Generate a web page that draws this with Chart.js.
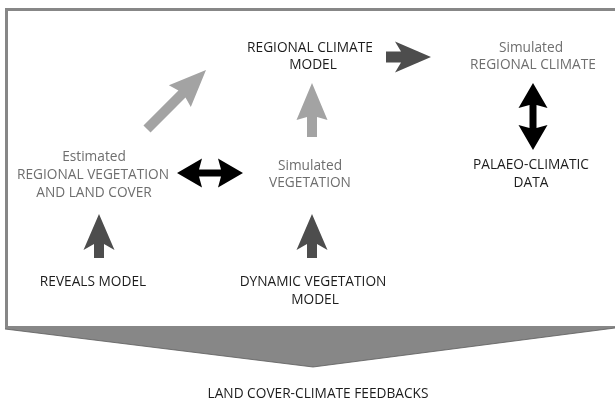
<!DOCTYPE html>
<html>
<head>
<meta charset="utf-8">
<script src="https://cdn.jsdelivr.net/npm/chart.js@4.4.0/dist/chart.umd.min.js"></script>
<style>
  html, body { margin: 0; padding: 0; background: #fff; }
  #diagram { display: block; }
</style>
</head>
<body>
<canvas id="diagram" width="615" height="402"></canvas>
<script>
// Diagram coordinates (x to the right, y downwards), one unit per pixel
const labelText = [
  'REGIONAL CLIMATE', 'MODEL',
  'Simulated', 'REGIONAL CLIMATE',
  'Estimated', 'REGIONAL VEGETATION', 'AND LAND COVER',
  'Simulated', 'VEGETATION',
  'PALAEO-CLIMATIC', 'DATA',
  'REVEALS MODEL',
  'DYNAMIC VEGETATION', 'MODEL',
  'LAND COVER-CLIMATE FEEDBACKS'
];
const labelX = [310, 313, 531, 533, 94, 93, 94, 310, 310, 531, 531, 93, 313, 315, 318];
const labelY = [48, 65, 48, 65, 157, 175, 193, 166, 183, 165, 183, 282, 282, 300, 394];
const labelTone = ['dark', 'dark', 'grey', 'grey', 'grey', 'grey', 'grey', 'grey', 'grey',
  'dark', 'dark', 'dark', 'dark', 'dark', 'dark'];

// Arrows: tail -> tip
const arrowFromX = [147, 312, 386, 177, 533, 99, 312];
const arrowFromY = [129, 137, 57, 173, 83, 258, 258];
const arrowToX = [206, 312, 431, 243, 533, 99, 312];
const arrowToY = [70, 83, 57, 173, 150, 214, 214];
const arrowKind = ['light', 'light', 'darkWide', 'both', 'both', 'dark', 'dark'];

// Frame and the funnel wedge below it
const frameX = [6.5, 620];
const frameY = [9.5, 327];
const wedgeX = [5, 615, 615, 313, 5];
const wedgeY = [326, 326, 328, 367, 329];

const tones = { dark: '#1c1c1c', grey: '#6e6e6e' };
const arrowStyle = {
  light:    { color: '#a3a3a3', shaft: 10, headW: 31, headL: 37, sweep: 3 },
  dark:     { color: '#4d4d4d', shaft: 10, headW: 31, headL: 36, sweep: 6 },
  darkWide: { color: '#4d4d4d', shaft: 11, headW: 31, headL: 36, sweep: 6 },
  both:     { color: '#000000', shaft: 7,  headW: 29, headL: 25, sweep: 3 }
};

function arrowPath(ctx, x1, y1, x2, y2, s, twoHeads) {
  const len = Math.hypot(x2 - x1, y2 - y1);
  ctx.save();
  ctx.translate(x1, y1);
  ctx.rotate(Math.atan2(y2 - y1, x2 - x1));
  const hw = s.headW / 2, sw = s.shaft / 2;
  const back = len - s.headL, join = back + s.sweep;
  ctx.beginPath();
  ctx.moveTo(len, 0);
  ctx.lineTo(back, -hw);
  ctx.lineTo(join, -sw);
  if (twoHeads) {
    ctx.lineTo(s.headL - s.sweep, -sw);
    ctx.lineTo(s.headL, -hw);
    ctx.lineTo(0, 0);
    ctx.lineTo(s.headL, hw);
    ctx.lineTo(s.headL - s.sweep, sw);
  } else {
    ctx.lineTo(0, -sw);
    ctx.lineTo(0, sw);
  }
  ctx.lineTo(join, sw);
  ctx.lineTo(back, hw);
  ctx.closePath();
  ctx.fillStyle = s.color;
  ctx.fill();
  ctx.restore();
}

const diagramPlugin = {
  id: 'diagram',
  afterDatasetsDraw(chart) {
    const ctx = chart.ctx;
    const xs = chart.scales.x, ys = chart.scales.y;
    const px = v => xs.getPixelForValue(v);
    const py = v => ys.getPixelForValue(v);

    // frame
    ctx.save();
    ctx.strokeStyle = '#878787';
    ctx.lineWidth = 3;
    ctx.beginPath();
    ctx.moveTo(px(frameX[0]), py(frameY[1]));
    ctx.lineTo(px(frameX[0]), py(frameY[0]));
    ctx.lineTo(px(frameX[1]), py(frameY[0]));
    ctx.stroke();

    // wedge
    ctx.beginPath();
    wedgeX.forEach((v, i) => {
      if (i === 0) ctx.moveTo(px(v), py(wedgeY[i]));
      else ctx.lineTo(px(v), py(wedgeY[i]));
    });
    ctx.closePath();
    ctx.fillStyle = '#878787';
    ctx.fill();
    ctx.strokeStyle = '#5a5a5a';
    ctx.lineWidth = 0.8;
    ctx.beginPath();
    ctx.moveTo(px(wedgeX[4]), py(wedgeY[4]));
    ctx.lineTo(px(wedgeX[3]), py(wedgeY[3]));
    ctx.lineTo(px(wedgeX[2]), py(wedgeY[2]));
    ctx.stroke();
    ctx.restore();

    // arrows
    arrowKind.forEach((k, i) => {
      arrowPath(ctx, px(arrowFromX[i]), py(arrowFromY[i]), px(arrowToX[i]), py(arrowToY[i]),
        arrowStyle[k], k === 'both');
    });

    // labels
    ctx.save();
    ctx.font = '13.7px "Open Sans", sans-serif';
    ctx.textAlign = 'center';
    ctx.textBaseline = 'middle';
    labelText.forEach((t, i) => {
      ctx.fillStyle = tones[labelTone[i]];
      ctx.fillText(t, px(labelX[i]), py(labelY[i]));
    });
    ctx.restore();
  }
};

new Chart(document.getElementById('diagram').getContext('2d'), {
  type: 'scatter',
  data: { datasets: [{ data: [], pointRadius: 0 }] },
  options: {
    responsive: false,
    animation: false,
    events: [],
    layout: { padding: 0 },
    plugins: { legend: { display: false }, tooltip: { enabled: false } },
    scales: {
      x: { type: 'linear', min: 0, max: 615, display: false },
      y: { type: 'linear', min: 0, max: 402, reverse: true, display: false }
    }
  },
  plugins: [diagramPlugin]
});
</script>
</body>
</html>
